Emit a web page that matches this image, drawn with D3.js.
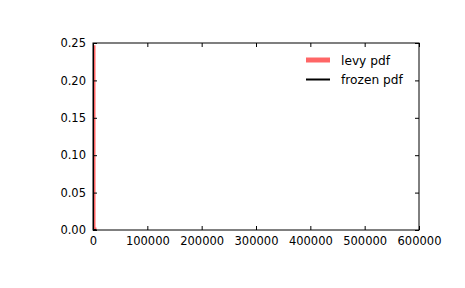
<!DOCTYPE html>
<html>
<head>
<meta charset="utf-8">
<script src="https://cdn.jsdelivr.net/npm/d3@7"></script>
<style>
  body { margin: 0; background: #fff; }
  svg text { font-family: "DejaVu Sans", sans-serif; }
</style>
</head>
<body>
<div id="chart"></div>
<script>
// --- Data ---
const xTicks = [0, 100000, 200000, 300000, 400000, 500000, 600000];
const yTicks = [0.00, 0.05, 0.10, 0.15, 0.20, 0.25];

// sample points of the levy pdf curve (x from ppf(0.01) to ppf(0.99))
const curveX = [0.15, 64, 129, 193, 322, 643, 1286, 3215, 6366];
const curveY = [0.247, 0.0008, 0.00027, 0.00015, 0.00007, 0.00002, 0.000009, 0.000002, 0.0000008];

const seriesNames = ['levy pdf', 'frozen pdf'];
const seriesColors = ['#ff0000', '#000000'];

// --- Chart ---
const W = 465, H = 288;
const margin = { top: 43, right: 46, bottom: 58, left: 93 };
const width = W - margin.left - margin.right;
const height = H - margin.top - margin.bottom;

const svg = d3.select('#chart')
    .append('svg')
    .attr('width', W)
    .attr('height', H);

const g = svg.append('g')
    .attr('transform', `translate(${margin.left}, ${margin.top})`);

const xScale = d3.scaleLinear().domain([0, 600000]).range([0, width]);
const yScale = d3.scaleLinear().domain([0, 0.25]).range([height, 0]);

g.append('clipPath').attr('id', 'clip')
    .append('rect').attr('width', width).attr('height', height);

const pts = curveX.map((x, i) => [x, curveY[i]]);
const line = d3.line().x(d => xScale(d[0])).y(d => yScale(d[1]));

const plot = g.append('g').attr('clip-path', 'url(#clip)');

// levy pdf (thick translucent red)
plot.append('path')
    .datum(pts)
    .attr('d', line)
    .attr('fill', 'none')
    .attr('stroke', seriesColors[0])
    .attr('stroke-opacity', 0.6)
    .attr('stroke-width', 5);

// frozen pdf (black)
plot.append('path')
    .datum(pts)
    .attr('d', line)
    .attr('fill', 'none')
    .attr('stroke', seriesColors[1])
    .attr('stroke-width', 2);

// Axes, ticks pointing inward on all four sides
const fmtY = d3.format('.2f');
const styleAxis = sel => {
    sel.select('.domain').remove();
    sel.selectAll('text')
        .style('font-size', '11.5px')
        .style('font-family', '"DejaVu Sans", sans-serif')
        .attr('fill', '#000');
    sel.selectAll('line').attr('stroke', '#000');
};

g.append('g')
    .attr('transform', `translate(0, ${height})`)
    .call(d3.axisBottom(xScale).tickValues(xTicks).tickFormat(d3.format('d')).tickSizeInner(-4).tickPadding(7))
    .call(styleAxis);

g.append('g')
    .call(d3.axisTop(xScale).tickValues(xTicks).tickFormat('').tickSizeInner(-4))
    .call(styleAxis);

g.append('g')
    .call(d3.axisLeft(yScale).tickValues(yTicks).tickFormat(fmtY).tickSizeInner(-4).tickPadding(7))
    .call(styleAxis);

g.append('g')
    .attr('transform', `translate(${width}, 0)`)
    .call(d3.axisRight(yScale).tickValues(yTicks).tickFormat('').tickSizeInner(-4))
    .call(styleAxis);

// Frame
g.append('rect')
    .attr('width', width)
    .attr('height', height)
    .attr('fill', 'none')
    .attr('stroke', '#000')
    .attr('stroke-width', 1);

// Legend (no frame)
const legend = g.append('g').attr('transform', `translate(${306 - margin.left}, ${60 - margin.top})`);
seriesNames.forEach((name, i) => {
    const row = legend.append('g').attr('transform', `translate(0, ${i * 19.5})`);
    row.append('line')
        .attr('x1', 0).attr('x2', 24)
        .attr('stroke', seriesColors[i])
        .attr('stroke-opacity', i === 0 ? 0.6 : 1)
        .attr('stroke-width', i === 0 ? 5 : 2);
    row.append('text')
        .attr('x', 35)
        .attr('y', 4.5)
        .style('font-size', '12.2px')
        .text(name);
});
</script>
</body>
</html>
